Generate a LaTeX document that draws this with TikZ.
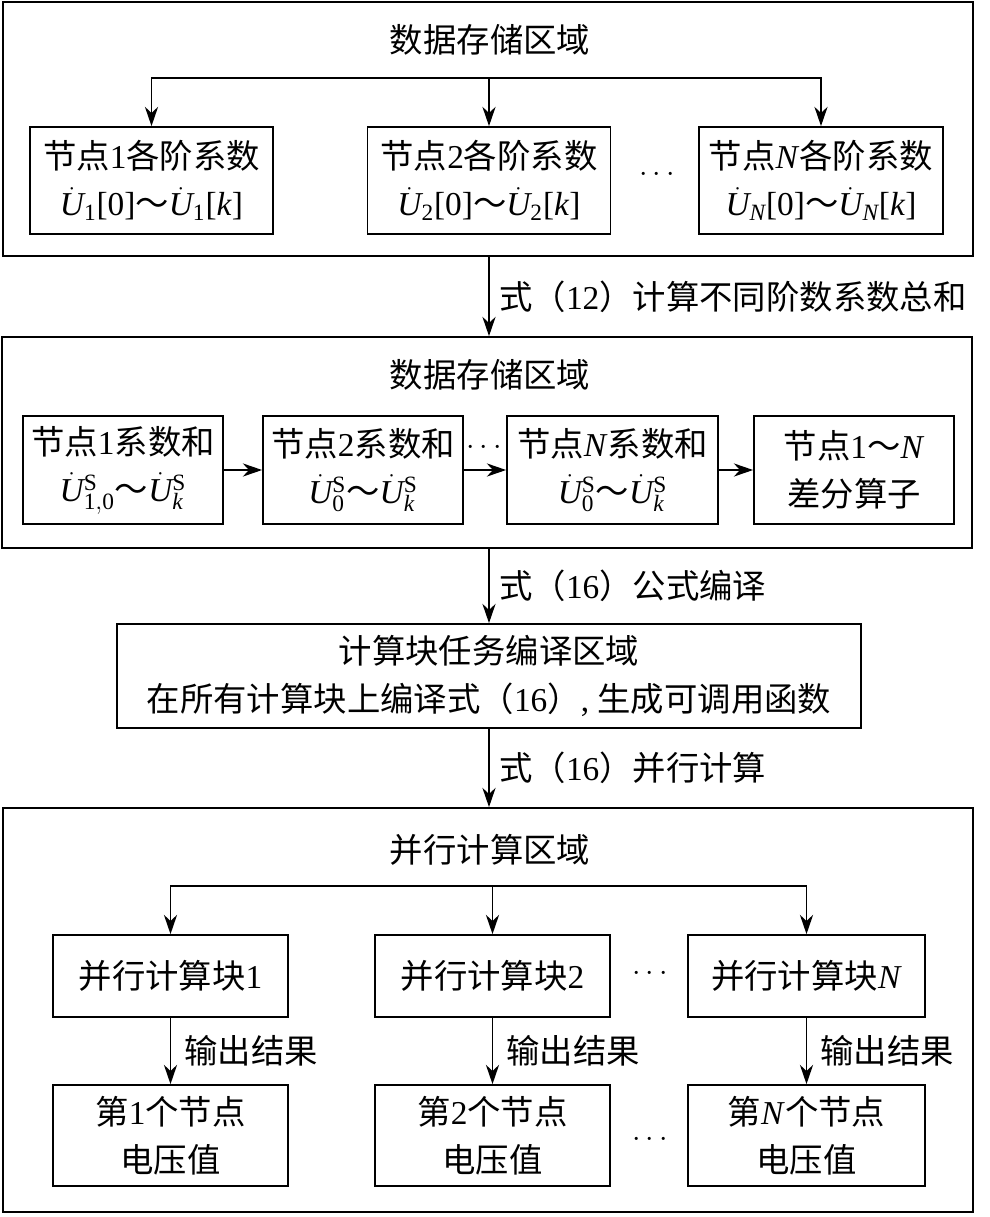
\documentclass[tikz,border=0pt]{standalone}
\usepackage{fontspec}
\setmainfont{Liberation Serif}
\newfontfamily\cjk{Noto Sans CJK SC}
\usetikzlibrary{arrows.meta}
\newcommand{\zh}[1]{{\cjk #1}}
\newcommand{\Ud}{\dot{\mathit{U}}}

\begin{document}
\begin{tikzpicture}[x=0.02cm,y=-0.02cm,>={Stealth[length=11pt,width=7.5pt]},line width=1pt,
  font=\fontsize{19}{27}\selectfont,
  box/.style 2 args={draw,align=center,inner sep=0pt,minimum width=#1*0.02cm,minimum height=#2*0.02cm}]
  \useasboundingbox (0,0) rectangle (990,1217);

  % 第一个数据存储区域
  \node[box={970}{254}] (reg1) at (488,129) {};
  \node (t1) at (490,40) {\zh{数据存储区域}};
  \node[box={243}{107}] (c1) at (151.5,180.5) {\zh{节点}1\zh{各阶系数}\\$\Ud_{\mathrm{1}}$[0]\zh{～}$\Ud_{\mathrm{1}}$[\textit{k}]};
  \node[box={243}{107}] (c2) at (489,180.5) {\zh{节点}2\zh{各阶系数}\\$\Ud_{\mathrm{2}}$[0]\zh{～}$\Ud_{\mathrm{2}}$[\textit{k}]};
  \node[box={244}{107}] (cN) at (821,180.5) {\zh{节点}\textit{N}\zh{各阶系数}\\$\Ud_{\mathit{N}}$[0]\zh{～}$\Ud_{\mathit{N}}$[\textit{k}]};
  \node (d1) at (657,175) {$\cdots$};
  \coordinate (s1) at (489,78);
  \draw[->] (s1) -| (c1.north);
  \draw[->] (s1) -- (c2.north);
  \draw[->] (s1) -| (cN.north);

  % 第二个数据存储区域
  \node[box={970}{211}] (reg2) at (487,442.5) {};
  \draw[->] (reg1.south -| s1) -- node[right=2pt] {\zh{式（}12\zh{）计算不同阶数系数总和}} (reg2.north -| s1);
  \node (t2) at (490,375) {\zh{数据存储区域}};
  \node[box={200}{108}] (a1) at (123,470) {\zh{节点}1\zh{系数和}\\$\Ud^{\mathrm{S}}_{\mathrm{1,0}}$\zh{～}$\Ud^{\mathrm{S}}_{\mathit{k}}$};
  \node[box={200}{108}] (a2) at (363,470) {\zh{节点}2\zh{系数和}\\$\Ud^{\mathrm{S}}_{\mathrm{0}}$\zh{～}$\Ud^{\mathrm{S}}_{\mathit{k}}$};
  \node[box={211}{108}] (aN) at (612.5,470) {\zh{节点}\textit{N}\zh{系数和}\\$\Ud^{\mathrm{S}}_{\mathrm{0}}$\zh{～}$\Ud^{\mathrm{S}}_{\mathit{k}}$};
  \node[box={200}{108}] (op) at (854,470) {\zh{节点}1\zh{～}\textit{N}\\\zh{差分算子}};
  \node (d2) at (484,448) {$\cdots$};
  \draw[->] (a1) -- (a2);
  \draw[->] (a2) -- (aN);
  \draw[->] (aN) -- (op);

  % 编译区域
  \node[box={744}{104}] (cmp) at (489,676) {\zh{计算块任务编译区域}\\\zh{在所有计算块上编译式（}16\zh{）}, \zh{生成可调用函数}};
  \draw[->] (reg2.south -| s1) -- node[right=2pt] {\zh{式（}16\zh{）公式编译}} (cmp.north);

  % 并行计算区域
  \node[box={970}{404}] (reg4) at (488,1010) {};
  \draw[->] (cmp.south) -- node[right=2pt] {\zh{式（}16\zh{）并行计算}} (reg4.north -| s1);
  \node (t4) at (490,850) {\zh{并行计算区域}};
  \node[box={235}{82}] (p1) at (170.5,976) {\zh{并行计算块}1};
  \node[box={235}{82}] (p2) at (492.5,976) {\zh{并行计算块}2};
  \node[box={237}{82}] (pN) at (806.5,976) {\zh{并行计算块}\textit{N}};
  \node[box={235}{101}] (o1) at (170.5,1135.5) {\zh{第}1\zh{个节点}\\\zh{电压值}};
  \node[box={235}{101}] (o2) at (492.5,1135.5) {\zh{第}2\zh{个节点}\\\zh{电压值}};
  \node[box={237}{101}] (oN) at (806.5,1135.5) {\zh{第}\textit{N}\zh{个节点}\\\zh{电压值}};
  \node (d3) at (650,974) {$\cdots$};
  \node (d4) at (650,1140) {$\cdots$};
  \coordinate (s4) at (492.5,886);
  \draw[->] (s4) -| (p1.north);
  \draw[->] (s4) -- (p2.north);
  \draw[->] (s4) -| (pN.north);
  \draw[->] (p1) -- node[right=4pt] {\zh{输出结果}} (o1);
  \draw[->] (p2) -- node[right=4pt] {\zh{输出结果}} (o2);
  \draw[->] (pN) -- node[right=4pt] {\zh{输出结果}} (oN);
\end{tikzpicture}
\end{document}
